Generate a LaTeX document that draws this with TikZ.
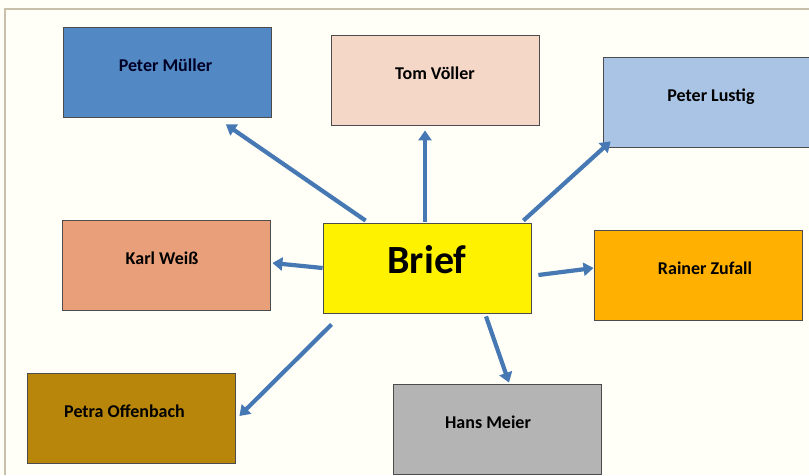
\documentclass[tikz,border=0pt]{standalone}
\usepackage{fontspec}
\setmainfont{Carlito}
\usetikzlibrary{positioning,arrows.meta}

\definecolor{boxblue}{RGB}{82,136,196}
\definecolor{boxpeach}{RGB}{245,215,200}
\definecolor{boxsky}{RGB}{169,196,228}
\definecolor{boxsalmon}{RGB}{233,160,122}
\definecolor{boxorange}{RGB}{255,176,0}
\definecolor{boxgold}{RGB}{184,134,10}
\definecolor{boxgray}{RGB}{180,180,180}
\definecolor{arrowblue}{RGB}{70,120,180}
\definecolor{framegray}{RGB}{200,192,170}

\begin{document}
\begin{tikzpicture}[
	x=1pt, y=-1pt,
	link/.style={line width=4.2pt, draw=arrowblue,
		-{Triangle[length=10pt,width=13pt]}}]

\tikzstyle{person} = [
	draw = black!70,
	line width = 0.8pt,
	minimum width = 208pt,
	minimum height = 90pt,
	text height = 12pt,
	text depth = 14pt,
	font = \bfseries\fontsize{18}{20}\selectfont
]
\tikzstyle{centre} = [
	person,
	fill = yellow,
	text height = 28pt,
	text depth = 18pt,
	font = \bfseries\fontsize{40}{44}\selectfont
]

\useasboundingbox (0,0) rectangle (809,475);
\clip (0,0) rectangle (809,475);
\fill[white!97!yellow] (0,0) rectangle (809,475);
\draw[framegray, line width=1.5pt] (5,475) -- (5,9) -- (809,9);

\node [centre] (brief) at (427,268) {Brief};

\node [person, fill=boxblue, text=black!85!blue] (mueller) at (167.5,72) {\hspace*{-4pt}Peter Müller};
\node [person, fill=boxpeach] (voeller) at (435,80) {Tom Völler};
\node [person, fill=boxsky] (lustig) at (707,102) {\hspace*{8pt}Peter Lustig};
\node [person, fill=boxsalmon] (weiss) at (166,265.5) {\hspace*{-8pt}Karl Weiß};
\node [person, fill=boxorange] (zufall) at (698,275.5) {\hspace*{14pt}Rainer Zufall};
\node [person, fill=boxgold] (offenbach) at (131,418) {\hspace*{-13pt}Petra Offenbach};
\node [person, fill=boxgray] (meier) at (497.5,429) {\hspace*{-19pt}Hans Meier};

\draw [link] ([xshift=43pt,yshift=2pt]brief.north west) -- ([xshift=-46pt,yshift=-7pt]mueller.south east);
\draw [link] ([xshift=-2pt,yshift=1pt]brief.north) -- ([xshift=-10pt,yshift=-5pt]voeller.south);
\draw [link] ([xshift=-8pt,yshift=2pt]brief.north east) -- ([xshift=8pt,yshift=6pt]lustig.south west);
\draw [link] (brief.west) -- ([xshift=2pt,yshift=2.5pt]weiss.east);
\draw [link] ([xshift=7pt,yshift=-7pt]brief.east) -- ([yshift=7.5pt]zufall.west);
\draw [link] ([xshift=9pt,yshift=-11pt]brief.south west) -- ([xshift=4pt,yshift=2pt]offenbach.east);
\draw [link] ([xshift=59pt,yshift=-3pt]brief.south) -- ([xshift=11.5pt,yshift=1pt]meier.north);
\end{tikzpicture}
\end{document}
